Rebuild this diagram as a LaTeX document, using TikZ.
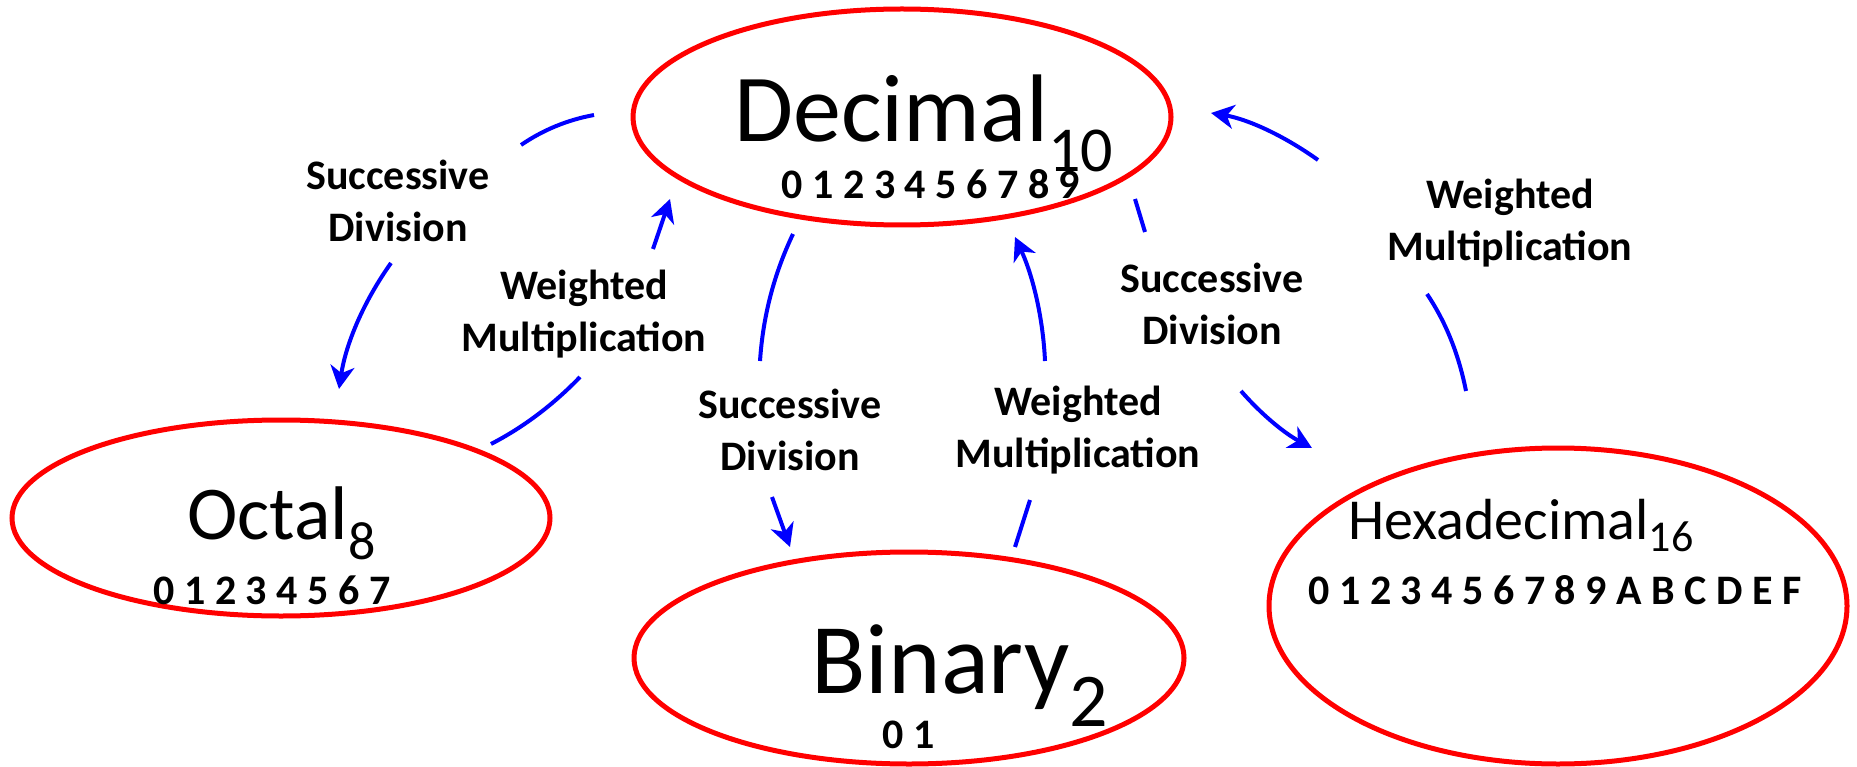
\documentclass[tikz,border=0pt]{standalone}
\usepackage{fontspec}
\setmainfont{Carlito}
\usetikzlibrary{shapes.geometric,arrows.meta}
\begin{document}
\begin{tikzpicture}[x=1pt,y=-1pt,
  numsys/.style={ellipse, draw=red, line width=5pt, inner sep=0pt},
  conn/.style={draw=blue, line width=4pt},
  arr/.style={conn, -{Stealth[length=23pt,width=24pt,inset=7pt]}},
  lbl/.style={font=\fontsize{42}{52}\selectfont\bfseries, align=center},
  digits/.style={font=\fontsize{42}{42}\selectfont\bfseries, anchor=base},
  title/.style={anchor=base west, inner sep=0pt},
]
\useasboundingbox (0,0) rectangle (1857,767);

% ellipses
\node[numsys, minimum width=538pt, minimum height=216pt] (dec) at (902,117) {};
\node[numsys, minimum width=538pt, minimum height=196pt] (oct) at (281,518) {};
\node[numsys, minimum width=550pt, minimum height=212pt] (bin) at (909,658) {};
\node[numsys, minimum width=578pt, minimum height=316pt] (hex) at (1558,606) {};

% titles
\node[title] (dect) at (734,142) {\fontsize{96}{96}\selectfont Decimal\raisebox{-30pt}{\fontsize{64}{64}\selectfont 10}};
\node[title] (octt) at (187,539) {\fontsize{76}{76}\selectfont Octal\raisebox{-20pt}{\fontsize{54}{54}\selectfont 8}};
\node[title] (bint) at (811,693) {\fontsize{100}{100}\selectfont Binary\raisebox{-33pt}{\fontsize{76}{76}\selectfont 2}};
\node[title] (hext) at (1348,539) {\fontsize{58}{58}\selectfont Hexadecimal\raisebox{-12pt}{\fontsize{44}{44}\selectfont 16}};

% digit rows
\node[digits] (decd) at (931,199) {0 1 2 3 4 5 6 7 8 9};
\node[digits] (octd) at (272,604) {0 1 2 3 4 5 6 7};
\node[digits] (bind) at (909,748) {0 1};
\node[digits] (hexd) at (1555,604) {0 1 2 3 4 5 6 7 8 9 A B C D E F};

% labels
\node[lbl] (l1) at (398,201) {Successive\\Division};
\node[lbl] (l2) at (584,314) {Weighted\\Multiplication};
\node[lbl] (l3) at (790,430) {Successive\\Division};
\node[lbl] (l4) at (1078,430) {Weighted\\Multiplication};
\node[lbl] (l5) at (1212,304) {Successive\\Division};
\node[lbl] (l6) at (1510,223) {Weighted\\Multiplication};

% connector points
\coordinate (a1s) at (594,115); \coordinate (a1e) at (521,145);
\coordinate (a1t) at (391,263); \coordinate (a1h) at (339,389);
\coordinate (a2s) at (491,444); \coordinate (a2e) at (580,377);
\coordinate (a2t) at (653,249); \coordinate (a2h) at (670,199);
\coordinate (a3s) at (793,234); \coordinate (a3e) at (760,361);
\coordinate (a3t) at (772,497); \coordinate (a3h) at (790,547);
\coordinate (a4s) at (1015,547); \coordinate (a4e) at (1030,500);
\coordinate (a4t) at (1045,361); \coordinate (a4h) at (1015,237);
\coordinate (a5s) at (1135,199); \coordinate (a5e) at (1145,232);
\coordinate (a5t) at (1241,391); \coordinate (a5h) at (1312,448);
\coordinate (a6s) at (1466,391); \coordinate (a6e) at (1427,294);
\coordinate (a6t) at (1318,160); \coordinate (a6h) at (1211,113);

% connectors
\draw[conn] (a1s) .. controls (567,120) and (543,130) .. (a1e);
\draw[arr]  (a1t) .. controls (364,301) and (346,343) .. (a1h);
\draw[conn] (a2s) .. controls (524,427) and (554,404) .. (a2e);
\draw[arr]  (a2t) -- (a2h);
\draw[conn] (a3s) .. controls (774,274) and (763,316) .. (a3e);
\draw[arr]  (a3t) -- (a3h);
\draw[conn] (a4s) -- (a4e);
\draw[arr]  (a4t) .. controls (1043,318) and (1033,276) .. (a4h);
\draw[conn] (a5s) -- (a5e);
\draw[arr]  (a5t) .. controls (1261,414) and (1284,433) .. (a5h);
\draw[conn] (a6s) .. controls (1459,356) and (1447,324) .. (a6e);
\draw[arr]  (a6t) .. controls (1283,135) and (1247,119) .. (a6h);
\end{tikzpicture}
\end{document}
